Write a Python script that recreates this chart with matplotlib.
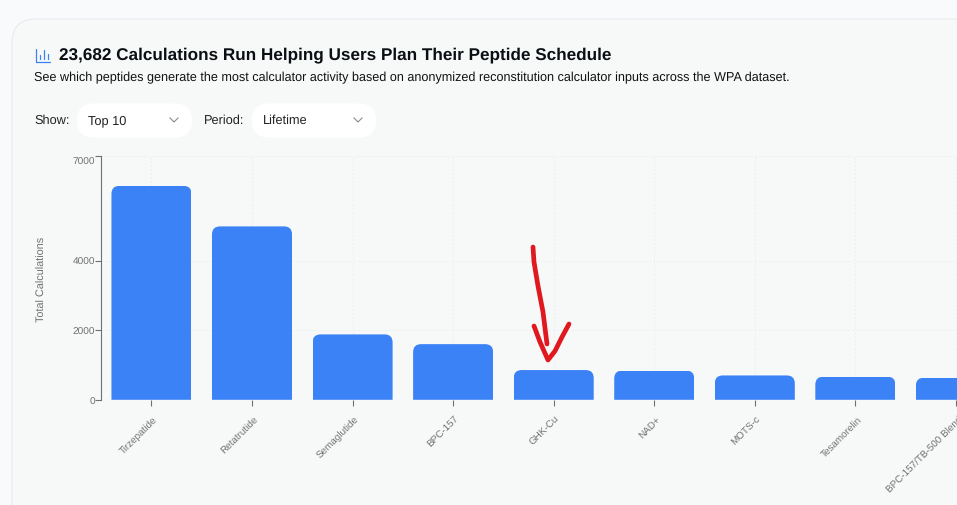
import matplotlib
matplotlib.use("Agg")
import matplotlib.pyplot as plt
from matplotlib.patches import FancyBboxPatch
from matplotlib.path import Path
from matplotlib.transforms import ScaledTranslation

W, H = 957, 506

peptides = ["Tirzepatide", "Retatrutide", "Semaglutide", "BPC-157", "GHK-Cu",
            "NAD+", "MOTS-c", "Tesamorelin", "BPC-157/TB-500 Blend"]
calculations = [6150, 4985, 1880, 1600, 855, 840, 700, 665, 635]
y_ticks = [0, 2000, 4000, 7000]

TITLE = "23,682 Calculations Run Helping Users Plan Their Peptide Schedule"
SUBTITLE = ("See which peptides generate the most calculator activity based on "
            "anonymized reconstitution calculator inputs across the WPA dataset.")

BLUE = "#3b82f6"
GREY = "#707070"
FONT = "Liberation Sans"

plt.rcParams["font.family"] = [FONT, "DejaVu Sans"]
plt.rcParams["text.hinting"] = "no_hinting"


def rounded_top(x0, x1, top, rx, ry):
    """Clip path for a bar with rounded top corners, in data units."""
    verts = [(x0, 0), (x0, top - ry), (x0, top), (x0 + rx, top), (x1 - rx, top),
             (x1, top), (x1, top - ry), (x1, 0), (x0, 0)]
    codes = [Path.MOVETO, Path.LINETO, Path.CURVE3, Path.CURVE3, Path.LINETO,
             Path.CURVE3, Path.CURVE3, Path.LINETO, Path.CLOSEPOLY]
    return Path(verts, codes)


fig = plt.figure(figsize=(W / 100, H / 100), dpi=100, facecolor="#f9fafc")

# page layer in pixel coordinates, for the card and the controls
page = fig.add_axes([0, 0, 1, 1], zorder=0)
page.set_xlim(0, W)
page.set_ylim(H, 0)
page.axis("off")

page.add_patch(FancyBboxPatch((12, 20), 1100, 700, boxstyle="round,pad=0,rounding_size=24",
                              fc="#f7f9f9", ec="#e8eaee", lw=0.8))

# little chart icon next to the title
page.plot([35.5, 35.5, 50], [49.5, 63, 63], color=BLUE, lw=0.9, solid_capstyle="round")
for ix, top in [(39.5, 56), (43.5, 51), (47.5, 55)]:
    page.plot([ix, ix], [top, 60], color=BLUE, lw=0.9, solid_capstyle="round")

page.text(59, 55.5, TITLE, fontsize=12.3, fontweight="bold", color="#0b0f14", va="center")
page.text(34, 78, SUBTITLE, fontsize=9.07, color="#111111", va="center")

page.text(34, 121, "Show:", fontsize=9.2, color="#222222", va="center")
page.text(204, 121, "Period:", fontsize=9.2, color="#222222", va="center")
for x0, x1, label in [(77, 192, "Top 10"), (252, 376, "Lifetime")]:
    page.add_patch(FancyBboxPatch((x0, 104.5), x1 - x0, 34, boxstyle="round,pad=0,rounding_size=17",
                                  fc="white", ec="none"))
    page.text(x0 + 11, 121, label, fontsize=9.2, color="#222222", va="center")
    page.plot([x1 - 22, x1 - 18, x1 - 14], [119, 123, 119], color="#888888", lw=0.8)

# chart, value axis is plain linear with only four ticks
ax = fig.add_axes([101.2 / W, (H - 400.8) / H, (W - 101.2) / W, 243.5 / H], zorder=1)
ax.patch.set_visible(False)
ax.set_xlim(-0.5, (W - 151.5) / 100.55)
ax.set_ylim(0, 7000)

positions = list(range(len(peptides)))
bar_w = 0.796
bars = ax.bar(positions, calculations, width=bar_w, color=BLUE, zorder=3)
for bar, pos, val in zip(bars, positions, calculations):
    bar.set_clip_path(rounded_top(pos - bar_w / 2, pos + bar_w / 2, val, 0.08, 230), ax.transData)

ax.set_yticks(y_ticks)
ax.set_xticks(positions)
ax.set_xticklabels(peptides, rotation=45, ha="right", va="top", rotation_mode="anchor",
                   fontsize=7.15, color=GREY)
ax.tick_params(axis="y", length=4, width=0.8, color=GREY, labelcolor=GREY, labelsize=7.3, pad=0.5)
ax.tick_params(axis="x", length=4, width=0.8, color=GREY, pad=6)
ax.get_yticklabels()[-1].set_va("top")
# labels sit a touch right of their ticks
nudge = ScaledTranslation(1.5 / 100, 0, fig.dpi_scale_trans)
for label in ax.get_xticklabels():
    label.set_transform(label.get_transform() + nudge)
ax.grid(True, color="#eceef0", lw=0.7, ls=(0, (2, 2)), zorder=0)
ax.set_axisbelow(True)
for side in ("top", "right", "bottom"):
    ax.spines[side].set_visible(False)
ax.spines["left"].set_color(GREY)
ax.spines["left"].set_linewidth(0.8)
ax.set_ylabel("Total Calculations", fontsize=7.8, color=GREY, labelpad=18)

# hand drawn red arrow on top of everything
over = fig.add_axes([0, 0, 1, 1], zorder=2)
over.set_xlim(0, W)
over.set_ylim(H, 0)
over.axis("off")
over.plot([533, 534, 538, 543, 547], [248, 263, 287, 313, 345], color="#e0191f", lw=3.4,
          solid_capstyle="round", solid_joinstyle="round")
over.plot([534, 540, 548, 555, 562, 569], [327, 343, 361, 352, 338, 325], color="#e0191f", lw=3.4,
          solid_capstyle="round", solid_joinstyle="round")

fig.savefig("out.png", dpi=100, facecolor=fig.get_facecolor())
